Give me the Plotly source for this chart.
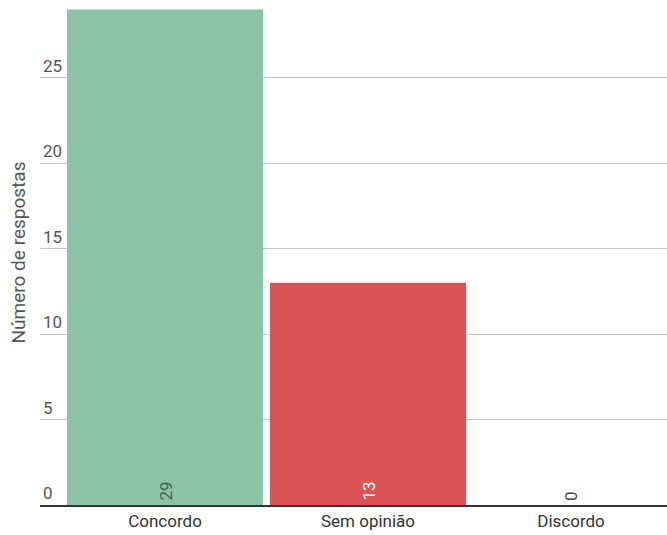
import plotly.graph_objects as go

categories = ["Concordo", "Sem opinião", "Discordo"]
counts = [29, 13, 0]
bar_colors = ["#8cc2a6", "#db5355", "#8cc2a6"]
label_colors = ["#43604f", "#ffffff", "#444444"]
y_ticks = [0, 5, 10, 15, 20, 25]

fig = go.Figure()
fig.add_trace(go.Bar(
    x=categories,
    y=counts,
    marker=dict(color=bar_colors, line=dict(width=0)),
    hoverinfo="x+y",
))

# count labels, rotated, sitting at the base of each bar
for cat, val, col in zip(categories, counts, label_colors):
    fig.add_annotation(
        x=cat, y=0, text=str(val), showarrow=False,
        textangle=-90, yanchor="bottom", yshift=2,
        font=dict(family="Roboto", size=17, color=col),
    )

fig.update_layout(
    width=667, height=535,
    margin=dict(l=40, r=0, t=0, b=30),
    paper_bgcolor="white", plot_bgcolor="white",
    bargap=0.034,
    showlegend=False,
    font=dict(family="Roboto", size=17, color="#555555"),
)
fig.update_xaxes(
    type="category",
    range=[-0.616, 2.473],
    showgrid=False,
    showline=True, linecolor="#333333", linewidth=2,
    ticks="", tickfont=dict(family="Roboto", size=17, color="#333333"),
    automargin=False,
)
fig.update_yaxes(
    range=[0, 29.55],
    tickvals=y_ticks,
    ticktext=[str(v) for v in y_ticks],
    ticklabelposition="inside top",
    tickfont=dict(family="Roboto", size=17, color="#555555"),
    showgrid=True, gridcolor="#c4c4c4", gridwidth=1,
    zeroline=False, showline=False, ticks="",
    title=dict(text="Número de respostas", standoff=12,
               font=dict(family="Roboto", size=19, color="#555555")),
    automargin=False,
)

fig.write_html("out.html")
